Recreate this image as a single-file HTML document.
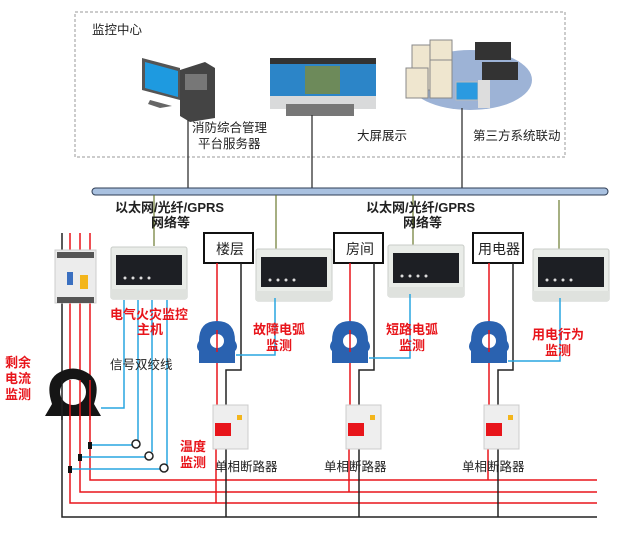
<!DOCTYPE html>
<html><head><meta charset="utf-8"><style>
body{margin:0;background:#fff}
svg{display:block}
text{font-family:"Liberation Sans","Noto Sans CJK SC",sans-serif}
.r{fill:#e8151b;font-weight:bold;font-size:13px}
.k{fill:#222;font-size:12.5px}
.b{fill:#222;font-weight:bold;font-size:13px}
</style></head><body>
<svg width="627" height="551" viewBox="0 0 627 551" xmlns="http://www.w3.org/2000/svg">
<defs>
<g id="mod">
<rect x="0" y="0" width="76" height="52" rx="2" fill="#e9ece8" stroke="#c9cdc8"/>
<rect x="5" y="8" width="66" height="30" fill="#1d1f24"/>
<g fill="#ddd"><circle cx="14" cy="31" r="1.5"/><circle cx="22" cy="31" r="1.5"/><circle cx="30" cy="31" r="1.5"/><circle cx="38" cy="31" r="1.5"/></g>
<rect x="0" y="42" width="76" height="10" fill="#dfe2de"/>
</g>
<g id="ct">
<path d="M-18,22 L-18,10 Q-22,6 -18,0 Q-18,-20 0,-20 Q18,-20 18,0 Q22,6 18,10 L18,22 Z" fill="#2a62b0"/>
<circle cx="0" cy="0" r="7" fill="#fff"/>
</g>
<g id="brk">
<rect x="0" y="0" width="35" height="44" fill="#eeeeee" stroke="#ccc"/>
<rect x="2" y="18" width="16" height="13" fill="#e8151b"/>
<rect x="24" y="10" width="5" height="5" fill="#f3b51b"/>
</g>
</defs>
<rect x="75" y="12" width="490" height="145" fill="none" stroke="#999" stroke-dasharray="3,2"/>
<text x="92" y="34" class="k">监控中心</text>
<polygon points="142,58 180,68 180,100 142,90" fill="#555"/>
<polygon points="145,62 178,71 178,97 145,88" fill="#1e9ae0"/>
<polygon points="150,100 172,106 160,108 148,104" fill="#666"/>
<polygon points="180,70 205,62 215,68 215,118 190,122 180,116" fill="#444"/>
<rect x="185" y="74" width="22" height="16" fill="#777"/>
<rect x="270" y="58" width="106" height="6" fill="#333"/>
<rect x="270" y="64" width="106" height="32" fill="#2c85c8"/>
<rect x="305" y="66" width="35" height="28" fill="#6d8a5a"/>
<rect x="270" y="96" width="106" height="13" fill="#d9dadb"/>
<rect x="286" y="104" width="68" height="12" fill="#777"/>
<ellipse cx="470" cy="80" rx="62" ry="30" fill="#9db3d6"/>
<rect x="412" y="45" width="22" height="45" fill="#efe6cf" stroke="#888"/>
<rect x="430" y="40" width="22" height="45" fill="#efe6cf" stroke="#888"/>
<rect x="406" y="68" width="22" height="30" fill="#efe6cf" stroke="#888"/>
<rect x="430" y="60" width="22" height="38" fill="#efe6cf" stroke="#888"/>
<rect x="475" y="42" width="36" height="18" fill="#333"/>
<rect x="482" y="62" width="36" height="18" fill="#333"/>
<rect x="456" y="82" width="22" height="18" fill="#2a9ae0" stroke="#bbb"/>
<rect x="478" y="80" width="12" height="28" fill="#ddd"/>
<text x="192" y="132" class="k">消防综合管理</text>
<text x="198" y="148" class="k">平台服务器</text>
<text x="357" y="140" class="k">大屏展示</text>
<text x="473" y="140" class="k">第三方系统联动</text>
<g stroke="#333" stroke-width="1.3"><line x1="188" y1="120" x2="188" y2="188"/><line x1="312" y1="115" x2="312" y2="188"/><line x1="462" y1="108" x2="462" y2="188"/></g>
<rect x="92" y="188" width="516" height="7" rx="3.5" fill="#a9c1e0" stroke="#2e3d55"/>
<g stroke="#6b7a2e" stroke-width="1.2"><line x1="154" y1="195" x2="154" y2="246"/><line x1="276" y1="195" x2="276" y2="250"/><line x1="413" y1="195" x2="413" y2="246"/><line x1="559" y1="200" x2="559" y2="250"/></g>
<text x="115" y="212" class="b">以太网/光纤/GPRS</text>
<text x="151" y="227" class="b">网络等</text>
<text x="366" y="212" class="b">以太网/光纤/GPRS</text>
<text x="403" y="227" class="b">网络等</text>
<use href="#mod" x="111" y="247"/>
<use href="#mod" x="256" y="249"/>
<use href="#mod" x="388" y="245"/>
<use href="#mod" x="533" y="249"/>
<g fill="#fff" stroke="#111" stroke-width="2"><rect x="204" y="233" width="49" height="30"/><rect x="334" y="233" width="49" height="30"/><rect x="473" y="233" width="50" height="30"/></g>
<text x="216" y="254" class="k" style="font-size:14px">楼层</text>
<text x="346" y="254" class="k" style="font-size:14px">房间</text>
<text x="478" y="254" class="k" style="font-size:14px">用电器</text>
<g fill="none" stroke-width="1.5">
<polyline points="62,233 62,517 597,517" stroke="#222"/>
<polyline points="70,233 70,503 597,503" stroke="#e8151b"/>
<polyline points="80,233 80,492 597,492" stroke="#e8151b"/>
<polyline points="90,233 90,480 597,480" stroke="#e8151b"/>
</g>
<rect x="55" y="250" width="41" height="53" fill="#ececec" stroke="#ccc"/>
<rect x="57" y="252" width="37" height="6" fill="#555"/>
<rect x="67" y="272" width="6" height="13" fill="#3a6fc0"/>
<rect x="80" y="275" width="8" height="14" fill="#f3b51b"/>
<rect x="57" y="297" width="37" height="6" fill="#555"/>
<path d="M45,416 L52,404 Q44,380 60,372 Q73,365 86,372 Q102,380 94,404 L101,416 Z" fill="#151515"/>
<circle cx="73" cy="392" r="13" fill="#fff"/>
<g stroke="#222" stroke-width="1.5"><line x1="62" y1="380" x2="62" y2="420"/></g>
<g stroke="#e8151b" stroke-width="1.5"><line x1="70" y1="380" x2="70" y2="420"/><line x1="80" y1="380" x2="80" y2="420"/><line x1="90" y1="380" x2="90" y2="420"/></g>
<g fill="none" stroke="#29a6e0" stroke-width="1.5">
<polyline points="124,300 124,408 101,408"/>
<polyline points="138,300 138,440"/>
<polyline points="152,300 152,452"/>
<polyline points="167,300 167,465"/>
<polyline points="92,445 133,445"/>
<polyline points="82,457 146,457"/>
<polyline points="72,469 161,469"/>
</g>
<g fill="none" stroke="#222" stroke-width="1.5"><circle cx="136" cy="444" r="4"/><circle cx="149" cy="456" r="4"/><circle cx="164" cy="468" r="4"/></g>
<g fill="#111"><rect x="88" y="442" width="4" height="7"/><rect x="78" y="454" width="4" height="7"/><rect x="68" y="466" width="4" height="7"/></g>
<g fill="none" stroke-width="1.5">
<line x1="217" y1="263" x2="217" y2="410" stroke="#e8151b"/>
<polyline points="241,263 241,370 226,370 226,517" stroke="#222"/>
<line x1="216" y1="448" x2="216" y2="503" stroke="#e8151b"/>
<polyline points="236,355 275,355 275,298" stroke="#29a6e0"/>
<line x1="350" y1="263" x2="350" y2="410" stroke="#e8151b"/>
<polyline points="374,263 374,370 359,370 359,517" stroke="#222"/>
<line x1="349" y1="448" x2="349" y2="492" stroke="#e8151b"/>
<polyline points="369,358 410,358 410,294" stroke="#29a6e0"/>
<line x1="489" y1="263" x2="489" y2="410" stroke="#e8151b"/>
<polyline points="513,263 513,370 498,370 498,517" stroke="#222"/>
<line x1="488" y1="448" x2="488" y2="480" stroke="#e8151b"/>
<polyline points="508,361 560,361 560,298" stroke="#29a6e0"/>
</g>
<use href="#ct" x="217" y="341"/>
<use href="#ct" x="350" y="341"/>
<use href="#ct" x="489" y="341"/>
<line x1="217" y1="330" x2="217" y2="352" stroke="#e8151b" stroke-width="1.5"/>
<line x1="350" y1="330" x2="350" y2="352" stroke="#e8151b" stroke-width="1.5"/>
<line x1="489" y1="330" x2="489" y2="352" stroke="#e8151b" stroke-width="1.5"/>
<use href="#brk" x="213" y="405"/>
<use href="#brk" x="346" y="405"/>
<use href="#brk" x="484" y="405"/>
<text x="215" y="471" class="k">单相断路器</text>
<text x="324" y="471" class="k">单相断路器</text>
<text x="462" y="471" class="k">单相断路器</text>
<text x="110" y="319" class="r">电气火灾监控</text>
<text x="137" y="334" class="r">主机</text>
<text x="110" y="369" class="k">信号双绞线</text>
<text x="253" y="334" class="r">故障电弧</text>
<text x="266" y="350" class="r">监测</text>
<text x="386" y="334" class="r">短路电弧</text>
<text x="399" y="350" class="r">监测</text>
<text x="532" y="339" class="r">用电行为</text>
<text x="545" y="355" class="r">监测</text>
<text x="5" y="367" class="r">剩余</text>
<text x="5" y="383" class="r">电流</text>
<text x="5" y="399" class="r">监测</text>
<text x="180" y="451" class="r">温度</text>
<text x="180" y="467" class="r">监测</text>
</svg>
</body></html>
